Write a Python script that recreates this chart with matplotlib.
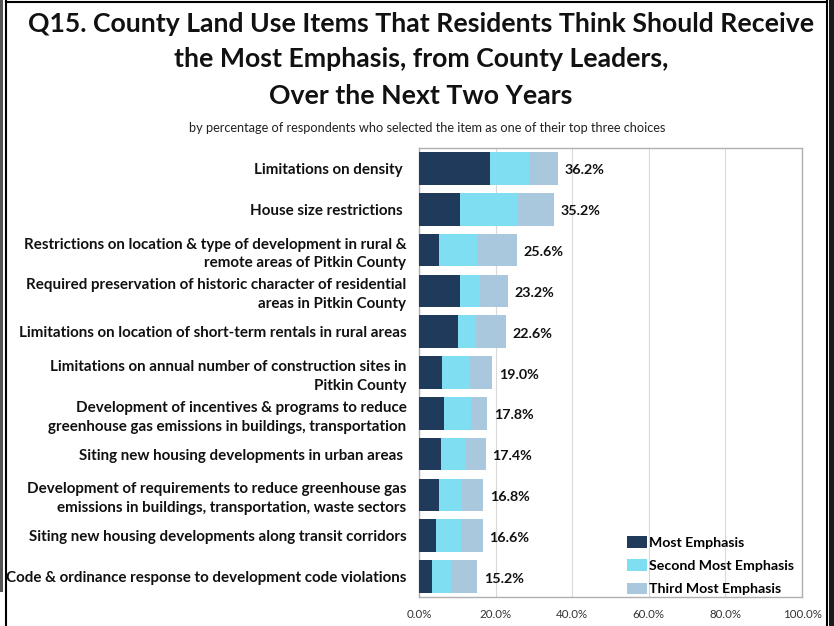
import matplotlib
matplotlib.use("Agg")
import matplotlib.pyplot as plt
from matplotlib.patches import Rectangle, Patch

plt.rcParams['font.family'] = ['Lato', 'DejaVu Sans']

categories = [
    "Limitations on density ",
    "House size restrictions ",
    "Restrictions on location & type of development in rural &\nremote areas of Pitkin County",
    "Required preservation of historic character of residential\nareas in Pitkin County",
    "Limitations on location of short-term rentals in rural areas",
    "Limitations on annual number of construction sites in\nPitkin County",
    "Development of incentives & programs to reduce\ngreenhouse gas emissions in buildings, transportation",
    "Siting new housing developments in urban areas ",
    "Development of requirements to reduce greenhouse gas\nemissions in buildings, transportation, waste sectors",
    "Siting new housing developments along transit corridors",
    "Code & ordinance response to development code violations",
]
most_emphasis = [18.5, 10.7, 5.3, 10.7, 10.3, 6.1, 6.6, 5.7, 5.3, 4.4, 3.4]
second_emphasis = [10.3, 15.1, 9.8, 5.2, 4.5, 7.2, 7.1, 6.5, 5.8, 6.6, 4.9]
third_emphasis = [7.4, 9.4, 10.5, 7.3, 7.8, 5.7, 4.1, 5.2, 5.7, 5.6, 6.9]
totals = [36.2, 35.2, 25.6, 23.2, 22.6, 19.0, 17.8, 17.4, 16.8, 16.6, 15.2]
series_names = ["Most Emphasis", "Second Most Emphasis", "Third Most Emphasis"]
x_ticks = [0, 20, 40, 60, 80, 100]
x_tick_labels = ["0.0%", "20.0%", "40.0%", "60.0%", "80.0%", "100.0%"]

colors = ["#1f3a5a", "#80def2", "#a9c8de"]

W, H = 834, 626
fig = plt.figure(figsize=(W / 100, H / 100), dpi=100)

# page frame
fig.patches.append(Rectangle((0, 1 - 592 / H), 3 / W, 592 / H, transform=fig.transFigure,
                             facecolor="#555555", edgecolor="none"))
fig.patches.append(Rectangle((829 / W, 0), 5 / W, 1, transform=fig.transFigure,
                             facecolor="#1a1a1a", edgecolor="none"))
fig.add_artist(plt.Line2D([5.5 / W, 5.5 / W], [0, 1 - 1 / H], color="black", lw=1.5,
                          transform=fig.transFigure))
fig.add_artist(plt.Line2D([826.5 / W, 826.5 / W], [0, 1 - 1 / H], color="black", lw=1.5,
                          transform=fig.transFigure))
fig.add_artist(plt.Line2D([5.5 / W, 826.5 / W], [1 - 1.5 / H, 1 - 1.5 / H], color="black", lw=1.5,
                          transform=fig.transFigure))

# titles
title_lines = ["Q15. County Land Use Items That Residents Think Should Receive",
               "the Most Emphasis, from County Leaders,",
               "Over the Next Two Years"]
for line, yc in zip(title_lines, [24, 59, 96]):
    fig.text(421 / W, 1 - yc / H, line, ha="center", va="center",
             fontsize=19.2, fontweight="bold", color="#111111")
fig.text(427 / W, 1 - 128 / H,
         "by percentage of respondents who selected the item as one of their top three choices",
         ha="center", va="center", fontsize=9.2, color="#222222")

ax = fig.add_axes([419 / W, 1 - 597 / H, (802 - 419) / W, (597 - 148) / H])

y = list(range(len(categories)))
left = [0] * len(categories)
for vals, col, name in zip([most_emphasis, second_emphasis, third_emphasis], colors, series_names):
    ax.barh(y, vals, left=left, color=col, height=0.8, label=name, zorder=3)
    left = [a + b for a, b in zip(left, vals)]

for yi, tot in zip(y, totals):
    ax.text(tot + 1.8, yi + 0.05, f"{tot:.1f}%", va="center", ha="left",
            fontsize=10.3, fontweight="bold", color="#111111", zorder=4)

ax.set_xlim(0, 100)
ax.set_ylim(len(categories) - 0.5, -0.5)
ax.set_xticks(x_ticks)
ax.set_xticklabels(x_tick_labels, fontsize=8.3, color="#333333")
ax.set_yticks(y)
ax.set_yticklabels(categories, fontsize=10.9, fontweight="bold", color="#111111",
                   linespacing=1.45)
ax.tick_params(axis="both", length=0)
ax.tick_params(axis="y", pad=9)
ax.tick_params(axis="x", pad=9)
ax.grid(axis="x", color="#d9d9d9", lw=0.8, zorder=0)
for s in ax.spines.values():
    s.set_color("#b0b0b0")
    s.set_linewidth(1.0)

handles = [Patch(facecolor=c, edgecolor="none") for c in colors]
leg = ax.legend(handles, series_names, loc="lower right", bbox_to_anchor=(1.012, -0.025),
                frameon=False, handlelength=1.4, handleheight=0.9, handletextpad=0.15,
                labelspacing=0.75, prop={"family": ["Lato", "DejaVu Sans"], "weight": "bold", "size": 10.2})

fig.savefig("out.png", dpi=100)
